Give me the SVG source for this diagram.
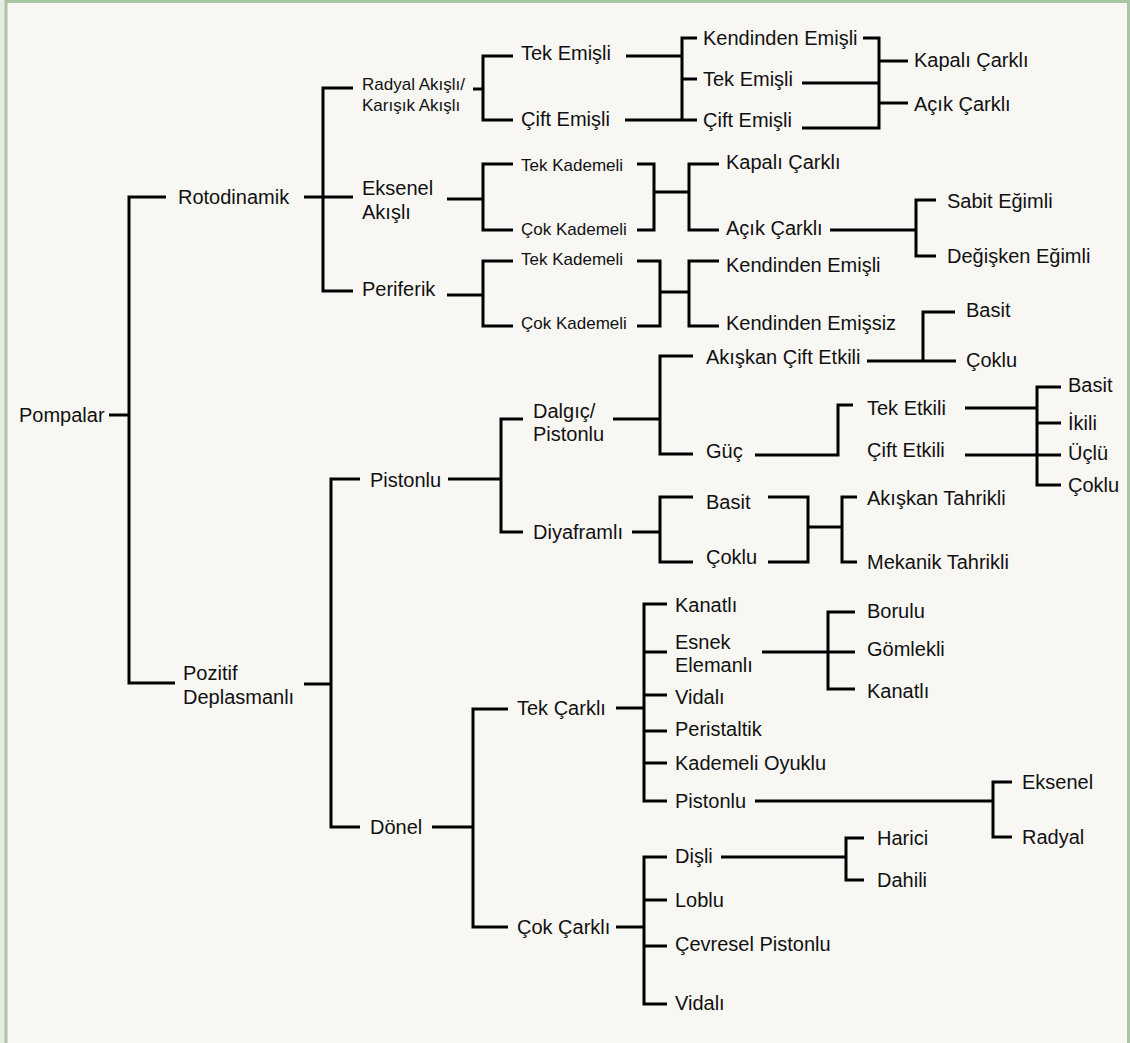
<svg xmlns="http://www.w3.org/2000/svg" width="1130" height="1043" viewBox="0 0 1130 1043">
<style>
.t{font-family:"Liberation Sans",Arial,sans-serif;font-size:20px;fill:#111}
.s{font-size:17px}
.c path{fill:none;stroke:#000;stroke-width:3;stroke-linejoin:miter;stroke-linecap:butt}
</style>
<rect x="0" y="0" width="1130" height="1043" fill="#f8f7f3"/>
<rect x="0" y="0" width="5" height="1043" fill="#e3ece0"/>
<rect x="6" y="1.5" width="1122.5" height="1060" fill="none" stroke="#a8c6a3" stroke-width="3"/>
<g class="c" id="connectors">
<path d="M109,415 H129"/>
<path d="M166,197 H129 V683 H175"/>
<path d="M304,197 H353"/>
<path d="M353,88 H323 V291 H353"/>
<path d="M473,89 H483"/>
<path d="M513,56 H483 V120 H513"/>
<path d="M626,56 H682"/>
<path d="M625,120 H697"/>
<path d="M697,38 H682 V120"/>
<path d="M682,79 H697"/>
<path d="M863,38 H879 V128 H802"/>
<path d="M802,83 H879"/>
<path d="M879,61 H908"/>
<path d="M879,103 H908"/>
<path d="M447,199 H483"/>
<path d="M513,164 H483 V230 H513"/>
<path d="M637,164 H654 V230 H637"/>
<path d="M654,192 H689"/>
<path d="M719,164 H689 V230 H719"/>
<path d="M830,230 H916"/>
<path d="M936,200 H916 V256 H936"/>
<path d="M447,295 H483"/>
<path d="M513,261 H483 V326 H513"/>
<path d="M637,261 H660 V326 H637"/>
<path d="M660,292 H689"/>
<path d="M719,261 H689 V326 H719"/>
<path d="M955,312 H923 V361"/>
<path d="M867,361 H956"/>
<path d="M304,684 H331"/>
<path d="M360,479 H331 V827 H360"/>
<path d="M448,479 H501"/>
<path d="M523,419 H501 V532 H523"/>
<path d="M613,419 H660"/>
<path d="M693,356 H660 V454 H693"/>
<path d="M755,455 H838 V405 H853"/>
<path d="M965,408 H1037"/>
<path d="M965,455 H1061"/>
<path d="M1061,387 H1037 V485 H1061"/>
<path d="M1037,423 H1061"/>
<path d="M632,532 H660"/>
<path d="M693,497 H660 V562 H693"/>
<path d="M768,497 H808 V562 H768"/>
<path d="M808,527 H842"/>
<path d="M857,497 H842 V562 H857"/>
<path d="M432,827 H473"/>
<path d="M508,709 H473 V927 H508"/>
<path d="M616,708 H644"/>
<path d="M667,604 H644 V801 H667"/>
<path d="M644,652 H667"/>
<path d="M644,695 H667"/>
<path d="M644,731 H667"/>
<path d="M644,763 H667"/>
<path d="M762,652 H855"/>
<path d="M855,612 H828 V689 H855"/>
<path d="M755,801 H993"/>
<path d="M1012,782 H993 V837 H1012"/>
<path d="M616,927 H644"/>
<path d="M667,857 H644 V1004 H667"/>
<path d="M644,900 H667"/>
<path d="M644,946 H667"/>
<path d="M721,857 H846"/>
<path d="M864,838 H846 V880 H864"/>
</g>
<g id="n-pompalar"><text class="t" x="19" y="422">Pompalar</text></g>
<g id="n-rotodinamik"><text class="t" x="178" y="204">Rotodinamik</text></g>
<g id="n-pozitif"><text class="t" x="183" y="680">Pozitif</text><text class="t" x="183" y="704">Deplasmanlı</text></g>
<g id="n-radyal"><text class="t s" x="362" y="90">Radyal Akışlı/</text><text class="t s" x="362" y="111">Karışık Akışlı</text></g>
<g id="n-eksenel"><text class="t" x="362" y="195">Eksenel</text><text class="t" x="362" y="219">Akışlı</text></g>
<g id="n-periferik"><text class="t" x="362" y="296">Periferik</text></g>
<g id="n-tek-emisli-1"><text class="t" x="521" y="60">Tek Emişli</text></g>
<g id="n-cift-emisli-1"><text class="t" x="521" y="126">Çift Emişli</text></g>
<g id="n-kendinden-emisli-1"><text class="t" x="703" y="45">Kendinden Emişli</text></g>
<g id="n-tek-emisli-2"><text class="t" x="703" y="86">Tek Emişli</text></g>
<g id="n-cift-emisli-2"><text class="t" x="703" y="127">Çift Emişli</text></g>
<g id="n-kapali-1"><text class="t" x="914" y="67">Kapalı Çarklı</text></g>
<g id="n-acik-1"><text class="t" x="914" y="111">Açık Çarklı</text></g>
<g id="n-tek-kademeli-1"><text class="t s" x="521" y="171">Tek Kademeli</text></g>
<g id="n-cok-kademeli-1"><text class="t s" x="521" y="235">Çok Kademeli</text></g>
<g id="n-kapali-2"><text class="t" x="726" y="169">Kapalı Çarklı</text></g>
<g id="n-acik-2"><text class="t" x="726" y="235">Açık Çarklı</text></g>
<g id="n-sabit"><text class="t" x="947" y="208">Sabit Eğimli</text></g>
<g id="n-degisken"><text class="t" x="947" y="263">Değişken Eğimli</text></g>
<g id="n-tek-kademeli-2"><text class="t s" x="521" y="265">Tek Kademeli</text></g>
<g id="n-cok-kademeli-2"><text class="t s" x="521" y="329">Çok Kademeli</text></g>
<g id="n-kendinden-emisli-2"><text class="t" x="726" y="272">Kendinden Emişli</text></g>
<g id="n-kendinden-emissiz"><text class="t" x="726" y="330">Kendinden Emişsiz</text></g>
<g id="n-basit-1"><text class="t" x="966" y="317">Basit</text></g>
<g id="n-akiskan-cift"><text class="t" x="706" y="364">Akışkan Çift Etkili</text></g>
<g id="n-coklu-1"><text class="t" x="966" y="367">Çoklu</text></g>
<g id="n-pistonlu-1"><text class="t" x="370" y="487">Pistonlu</text></g>
<g id="n-dalgic"><text class="t" x="533" y="418">Dalgıç/</text><text class="t" x="533" y="441">Pistonlu</text></g>
<g id="n-guc"><text class="t" x="706" y="458">Güç</text></g>
<g id="n-tek-etkili"><text class="t" x="867" y="415">Tek Etkili</text></g>
<g id="n-cift-etkili"><text class="t" x="867" y="457">Çift Etkili</text></g>
<g id="n-basit-2"><text class="t" x="1068" y="392">Basit</text></g>
<g id="n-ikili"><text class="t" x="1068" y="430">İkili</text></g>
<g id="n-uclu"><text class="t" x="1068" y="460">Üçlü</text></g>
<g id="n-coklu-2"><text class="t" x="1068" y="492">Çoklu</text></g>
<g id="n-diyaframli"><text class="t" x="533" y="539">Diyaframlı</text></g>
<g id="n-basit-3"><text class="t" x="706" y="509">Basit</text></g>
<g id="n-coklu-3"><text class="t" x="706" y="564">Çoklu</text></g>
<g id="n-akiskan-tahrikli"><text class="t" x="867" y="505">Akışkan Tahrikli</text></g>
<g id="n-mekanik-tahrikli"><text class="t" x="867" y="569">Mekanik Tahrikli</text></g>
<g id="n-donel"><text class="t" x="370" y="834">Dönel</text></g>
<g id="n-tek-carkli"><text class="t" x="517" y="715">Tek Çarklı</text></g>
<g id="n-kanatli-1"><text class="t" x="675" y="612">Kanatlı</text></g>
<g id="n-esnek"><text class="t" x="675" y="649">Esnek</text><text class="t" x="675" y="672">Elemanlı</text></g>
<g id="n-vidali-1"><text class="t" x="675" y="704">Vidalı</text></g>
<g id="n-peristaltik"><text class="t" x="675" y="736">Peristaltik</text></g>
<g id="n-kademeli-oyuklu"><text class="t" x="675" y="770">Kademeli Oyuklu</text></g>
<g id="n-pistonlu-2"><text class="t" x="675" y="808">Pistonlu</text></g>
<g id="n-borulu"><text class="t" x="867" y="618">Borulu</text></g>
<g id="n-gomlekli"><text class="t" x="867" y="656">Gömlekli</text></g>
<g id="n-kanatli-2"><text class="t" x="867" y="698">Kanatlı</text></g>
<g id="n-eksenel-2"><text class="t" x="1022" y="789">Eksenel</text></g>
<g id="n-radyal-2"><text class="t" x="1022" y="844">Radyal</text></g>
<g id="n-cok-carkli"><text class="t" x="517" y="934">Çok Çarklı</text></g>
<g id="n-disli"><text class="t" x="675" y="863">Dişli</text></g>
<g id="n-loblu"><text class="t" x="675" y="907">Loblu</text></g>
<g id="n-cevresel"><text class="t" x="675" y="951">Çevresel Pistonlu</text></g>
<g id="n-vidali-2"><text class="t" x="675" y="1010">Vidalı</text></g>
<g id="n-harici"><text class="t" x="877" y="845">Harici</text></g>
<g id="n-dahili"><text class="t" x="877" y="887">Dahili</text></g>
</svg>
